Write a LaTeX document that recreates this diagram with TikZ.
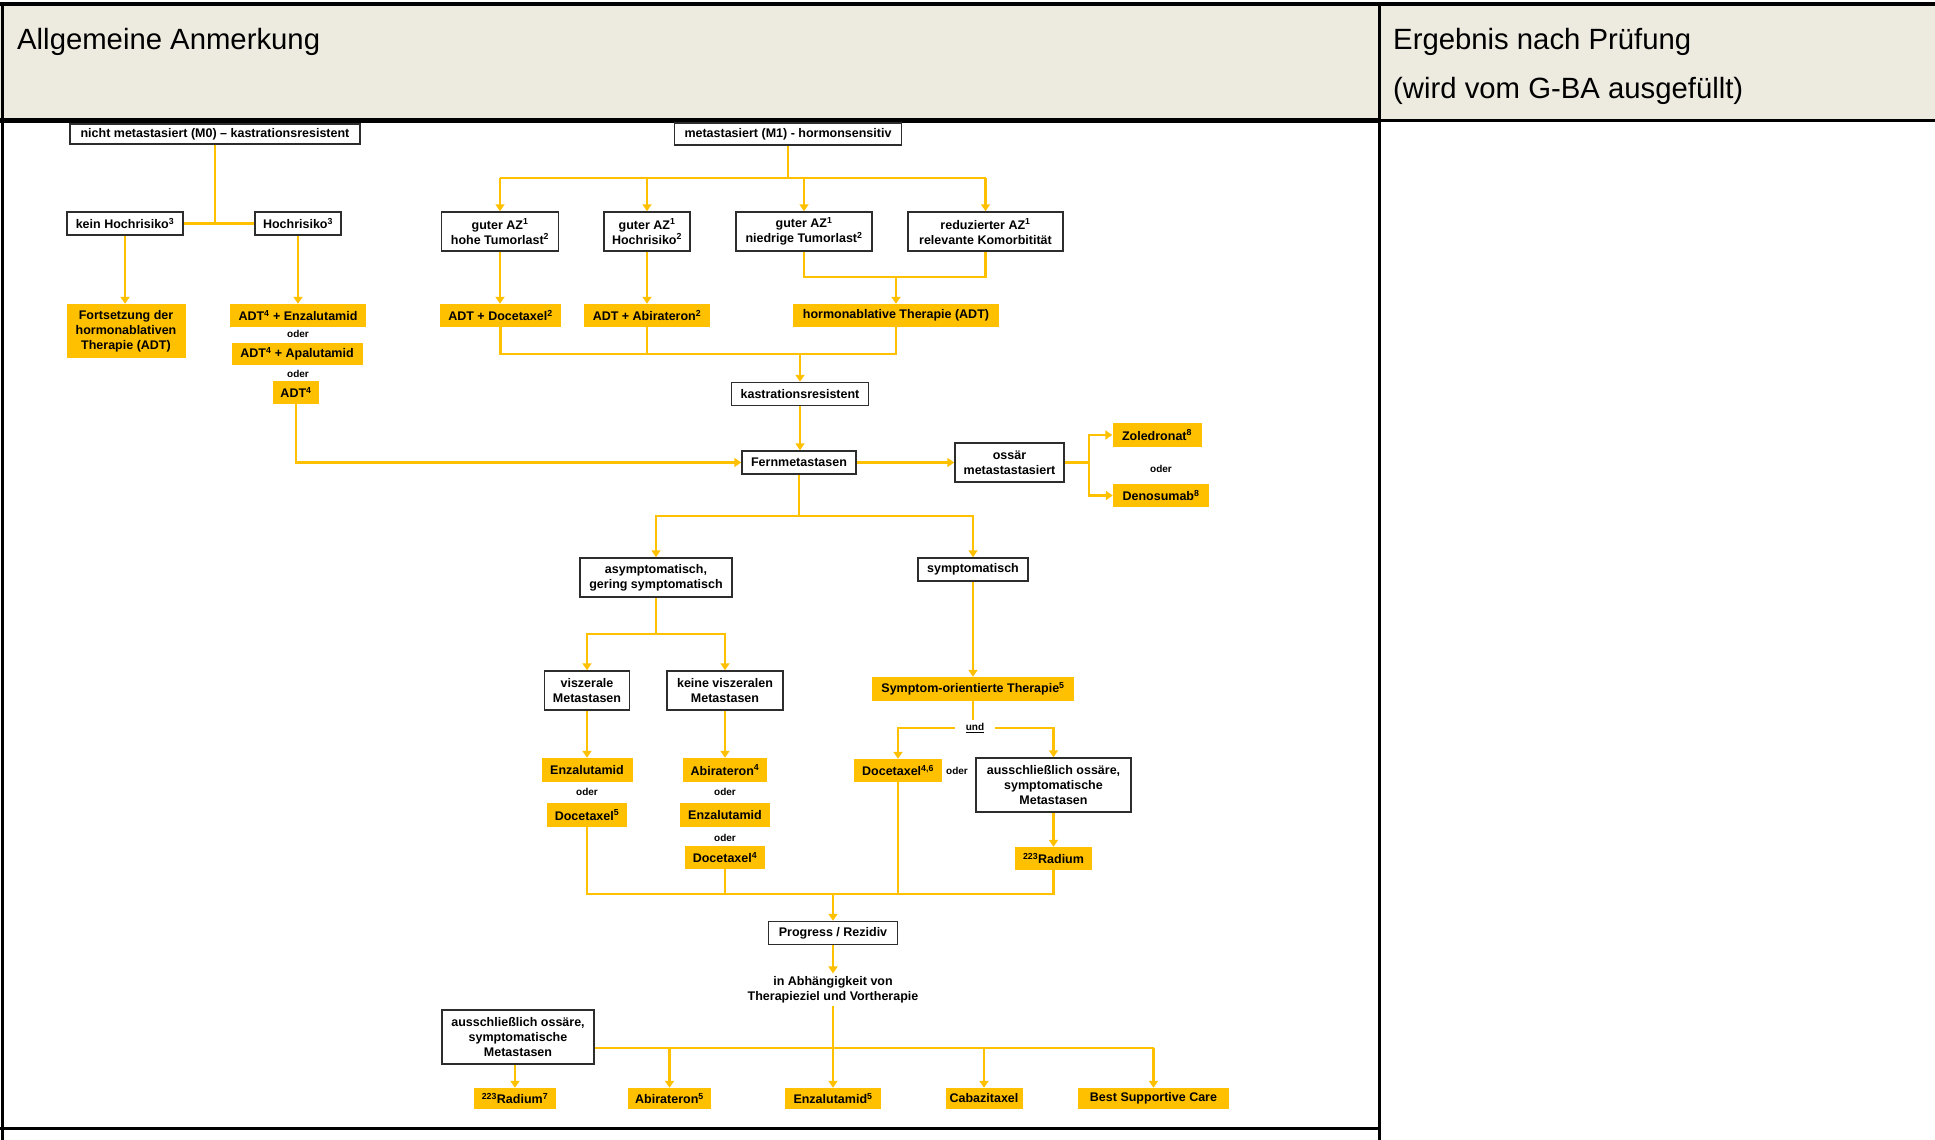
\documentclass[tikz,border=0pt]{standalone}
\usepackage{fontspec}
\setmainfont{Liberation Sans}
\usetikzlibrary{arrows.meta}
\definecolor{gelb}{RGB}{255,192,0}
\definecolor{beige}{RGB}{237,234,224}
\definecolor{rand}{RGB}{45,45,45}
\tikzset{
  wh/.style 2 args={minimum width=#1pt, minimum height=#2pt},
  wbox/.style={draw=rand, line width=1.5pt, fill=white, inner sep=0pt, align=center, font=\bfseries\fontsize{12.5}{15}\selectfont},
  obox/.style={fill=gelb, inner sep=0pt, align=center, font=\bfseries\fontsize{12.5}{15}\selectfont},
  lbl/.style={inner sep=0pt, align=center, font=\bfseries\fontsize{10}{12}\selectfont},
  conn/.style={draw=gelb, line width=2.5pt},
  arr/.style={conn, -{Triangle[length=7pt,width=9pt]}},
  hdr/.style={inner sep=0pt, anchor=base west, font=\fontsize{29.3}{35}\selectfont},
}
\begin{document}
\begin{tikzpicture}[x=1pt,y=-1pt]
\useasboundingbox (0,0) rectangle (1935,1140);
% table
\fill[beige] (0,5) rectangle (1935,120);
\node[hdr] (h1) at (17,50) {Allgemeine Anmerkung};
\node[hdr] (h2) at (1393,50) {Ergebnis nach Prüfung};
\node[hdr] (h3) at (1393,99) {(wird vom G-BA ausgefüllt)};
\draw[line width=4pt] (0,4) -- (1935,4);
\draw[line width=3pt] (2.5,4) -- (2.5,1140);
\draw[line width=3pt] (1379,4) -- (1379,1140);
\draw[line width=5pt] (0,120) -- (1379,120);
\draw[line width=3pt] (1379,120) -- (1935,120);
\draw[line width=3pt] (0,1128) -- (1379,1128);

% nodes
\node[wbox, wh={290}{20}] (m0) at (215,134) {nicht metastasiert (M0) – kastrationsresistent};
\node[wbox, wh={227}{22}] (m1) at (788,134) {metastasiert (M1) - hormonsensitiv};
\node[wbox, wh={116}{23}] (kein) at (125,223.5) {kein Hochrisiko\textsuperscript{3}};
\node[wbox, wh={86}{23}] (hoch) at (298,223.5) {Hochrisiko\textsuperscript{3}};
\node[obox, wh={119}{54}] (fort) at (126,331) {Fortsetzung der\\hormonablativen\\Therapie (ADT)};
\node[obox, wh={136}{23}] (enza1) at (298,315.5) {ADT\textsuperscript{4} + Enzalutamid};
\node[lbl] (oder1) at (298,334) {oder};
\node[obox, wh={131}{22}] (apal) at (297,354) {ADT\textsuperscript{4} + Apalutamid};
\node[lbl] (oder2) at (298,374) {oder};
\node[obox, wh={46}{23}] (adt4) at (296,392.5) {ADT\textsuperscript{4}};

\node[wbox, wh={117}{39}] (g1) at (500,231.5) {guter AZ\textsuperscript{1}\\hohe Tumorlast\textsuperscript{2}};
\node[wbox, wh={86}{39}] (g2) at (647,231.5) {guter AZ\textsuperscript{1}\\Hochrisiko\textsuperscript{2}};
\node[wbox, wh={136}{39}] (g3) at (804,231.5) {guter AZ\textsuperscript{1}\\niedrige Tumorlast\textsuperscript{2}};
\node[wbox, wh={155}{39}] (g4) at (985.5,231.5) {reduzierter AZ\textsuperscript{1}\\relevante Komorbitität};
\node[obox, wh={121}{23}] (ad1) at (500.5,315.5) {ADT + Docetaxel\textsuperscript{2}};
\node[obox, wh={126}{23}] (ad2) at (647,315.5) {ADT + Abirateron\textsuperscript{2}};
\node[obox, wh={206}{23}] (ad3) at (896,315.5) {hormonablative Therapie (ADT)};
\node[wbox, wh={137}{23}] (kast) at (800,394) {kastrationsresistent};
\node[wbox, wh={114}{23}] (fern) at (799,462.5) {Fernmetastasen};
\node[wbox, wh={109}{39}] (oss) at (1009.5,462.5) {ossär\\metastastasiert};
\node[obox, wh={89}{24}] (zol) at (1157,435) {Zoledronat\textsuperscript{8}};
\node[lbl] (oder3) at (1161,469) {oder};
\node[obox, wh={96}{23}] (deno) at (1161,495.5) {Denosumab\textsuperscript{8}};

\node[wbox, wh={152}{39}] (asym) at (656,577.5) {asymptomatisch,\\gering symptomatisch};
\node[wbox, wh={110}{23}] (sym) at (973,569.5) {symptomatisch};
\node[wbox, wh={85}{39}] (visz) at (587,690.5) {viszerale\\Metastasen};
\node[wbox, wh={116}{39}] (kvisz) at (725,690.5) {keine viszeralen\\Metastasen};
\node[obox, wh={91}{24}] (enza2) at (587,770) {Enzalutamid};
\node[lbl] (oder4) at (587,792) {oder};
\node[obox, wh={80}{24}] (doc5) at (587,815) {Docetaxel\textsuperscript{5}};
\node[obox, wh={84}{24}] (abi4) at (725,770) {Abirateron\textsuperscript{4}};
\node[lbl] (oder5) at (725,792) {oder};
\node[obox, wh={90}{24}] (enza3) at (725,815) {Enzalutamid};
\node[lbl] (oder6) at (725,838) {oder};
\node[obox, wh={80}{23}] (doc4) at (725,857.5) {Docetaxel\textsuperscript{4}};
\node[obox, wh={202}{24}] (symth) at (973,689) {Symptom-orientierte Therapie\textsuperscript{5}};
\node[lbl, inner xsep=11pt, inner ysep=1pt] (und) at (975,728) {\underline{und}};
\node[obox, wh={88}{23}] (doc46) at (898,770.5) {Docetaxel\textsuperscript{4,6}};
\node[lbl] (oder7) at (957,771) {oder};
\node[wbox, wh={155}{54}] (auss1) at (1053.5,785) {ausschließlich ossäre,\\symptomatische\\Metastasen};
\node[obox, wh={77}{23}] (rad1) at (1053.5,858.5) {\textsuperscript{223}Radium};
\node[wbox, wh={129}{23}] (prog) at (833,933) {Progress / Rezidiv};
\node[inner sep=0pt, align=center, font=\bfseries\fontsize{12.5}{15}\selectfont] (abh) at (833,990) {in Abhängigkeit von\\Therapieziel und Vortherapie};
\node[wbox, wh={152}{54}] (auss2) at (518,1037) {ausschließlich ossäre,\\symptomatische\\Metastasen};
\node[obox, wh={82}{21}] (rad7) at (515,1098.5) {\textsuperscript{223}Radium\textsuperscript{7}};
\node[obox, wh={83}{21}] (abi5) at (669.5,1098.5) {Abirateron\textsuperscript{5}};
\node[obox, wh={96}{21}] (enza5) at (833,1098.5) {Enzalutamid\textsuperscript{5}};
\node[obox, wh={77}{21}] (caba) at (984,1098.5) {Cabazitaxel};
\node[obox, wh={151}{21}] (bsc) at (1153.5,1098.5) {Best Supportive Care};

% connectors
\draw[conn] (m0.south) -- (m0.south |- kein.east);
\draw[conn] (kein.east) -- (hoch.west);
\draw[arr] (kein.south) -- (kein.south |- fort.north);
\draw[arr] (hoch.south) -- (hoch.south |- enza1.north);
\draw[arr] (adt4.south) |- (fern.west);

\coordinate (j1) at (788,178);
\draw[conn] (m1.south) -- (j1);
\draw[conn] (g1.north |- j1) -- (g4.north |- j1);
\foreach \g in {g1,g2,g3,g4} \draw[arr] (\g.north |- j1) -- (\g.north);
\draw[arr] (g1.south) -- (g1.south |- ad1.north);
\draw[arr] (g2.south) -- (ad2.north);
\coordinate (j2) at (896,277);
\draw[conn] (g3.south) |- (g4.south |- j2) -- (g4.south);
\draw[arr] (j2) -- (j2 |- ad3.north);
\coordinate (j3) at (800,354);
\draw[conn] (ad1.south) |- (ad3.south |- j3) -- (ad3.south);
\draw[conn] (ad2.south) -- (ad2.south |- j3);
\draw[arr] (j3) -- (j3 |- kast.north);
\draw[arr] (kast.south) -- (kast.south |- fern.north);
\draw[arr] (fern.east) -- (oss.west);
\coordinate (j4) at (1089,462.5);
\draw[conn] (oss.east) -- (j4);
\draw[arr] (j4) |- (zol.west);
\draw[arr] (j4) |- (deno.west);
\coordinate (j5) at (799,516);
\draw[conn] (fern.south) -- (j5);
\draw[arr] (j5) -| (asym.north);
\draw[arr] (j5) -| (sym.north);
\coordinate (j6) at (656,634);
\draw[conn] (asym.south) -- (j6);
\draw[arr] (j6) -| (visz.north);
\draw[arr] (j6) -| (kvisz.north);
\draw[arr] (visz.south) -- (enza2.north);
\draw[arr] (kvisz.south) -- (abi4.north);
\draw[arr] (sym.south) -- (symth.north);
\draw[conn, shorten >=2pt] (symth.south) -- (symth.south |- und.north);
\draw[arr] (und.west) -| (doc46.north);
\draw[arr] (und.east) -| (auss1.north);
\draw[arr] (auss1.south) -- (rad1.north);
\coordinate (j7) at (833,894);
\draw[conn] (doc5.south) |- (rad1.south |- j7) -- (rad1.south);
\draw[conn] (doc4.south) -- (doc4.south |- j7);
\draw[conn] (doc46.south) -- (doc46.south |- j7);
\draw[arr] (j7) -- (prog.north);
\draw[arr, shorten >=3pt] (prog.south) -- (abh.north);
\coordinate (j8) at (833,1048);
\draw[conn, shorten <=2pt] (abh.south) -- (j8);
\draw[conn] (auss2.east |- j8) -- (bsc.north |- j8);
\foreach \b in {abi5,enza5,caba,bsc} \draw[arr] (\b.north |- j8) -- (\b.north);
\draw[arr] (rad7.north |- auss2.south) -- (rad7.north);
\end{tikzpicture}
\end{document}
